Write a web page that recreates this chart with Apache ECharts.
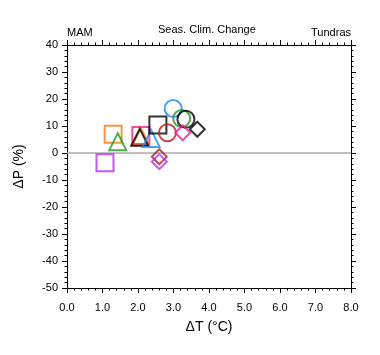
<!DOCTYPE html>
<html><head><meta charset="utf-8">
<script src="https://cdn.jsdelivr.net/npm/echarts@6/dist/echarts.min.js"></script>
<style>html,body{margin:0;padding:0;background:#fff}#c{width:380px;height:355px}</style>
</head><body><div id="c"></div>
<script>
// Data: temperature change (°C) and precipitation change (%) per model
const dT = [1.30, 1.43, 1.07, 2.08, 2.08, 2.05, 2.37, 2.56, 2.83, 2.99, 3.23, 3.35, 3.26, 3.67, 2.60, 2.60];
const dP = [6.9, 4.2, -3.6, 6.5, 6.0, 5.8, 5.4, 10.4, 7.5, 16.5, 12.8, 12.5, 7.5, 8.8, -1.4, -3.2];
const xTicks = [0,1,2,3,4,5,6,7,8];
const yTicks = [-50,-40,-30,-20,-10,0,10,20,30,40];

// Styles (kept separate from data)
const shapes = ['rect','triangle','rect','rect','triangle','triangle','triangle','rect','circle','circle','circle','circle','diamond','diamond','diamond','diamond'];
const colors = ['#f07c14','#229922','#b030f0','#f0208c','#f07c14','#000000','#1e88f0','#000000','#b02020','#1e88f0','#229922','#000000','#f0208c','#000000','#b02020','#b030f0'];
const sizes = {rect:17, triangle:17, circle:17, diamond:15};

const font = 'Liberation Sans, Arial, Helvetica, sans-serif';
const series = dT.map((x,i)=>({
  type:'scatter', z: 3+i,
  symbol: shapes[i], symbolSize: sizes[shapes[i]],
  itemStyle:{color:'rgba(0,0,0,0)', borderColor:colors[i], borderWidth:2},
  data:[[x, dP[i]]], silent:true
}));
series.push({
  type:'line', data:[[0,0],[8,0]], symbol:'none', z:2,
  lineStyle:{color:'#aaaaaa', width:1.5}, silent:true
});

const tickCommon = {show:true, inside:false, length:5, lineStyle:{color:'#000', width:1}};
const minorCommon = {show:true, splitNumber:5, length:2.5, lineStyle:{color:'#000', width:1}};
const ts = {fontFamily:font, fontSize:11, fontWeight:'normal', color:'#000'};
const chart = echarts.init(document.getElementById('c'), null, {renderer:'canvas'});
chart.setOption({
  animation:false,
  backgroundColor:'#fff',
  grid:{left:67, right:29, top:45, bottom:67, containLabel:false},
  title:[
    {text:'MAM', left:62, top:22, textStyle:ts},
    {text:'Seas. Clim. Change', left:153, top:19, textStyle:ts},
    {text:'Tundras', right:24, top:22, textStyle:ts}
  ],
  xAxis:[{
    type:'value', min:xTicks[0], max:xTicks[xTicks.length-1], interval:1,
    axisLine:{show:true, onZero:false, lineStyle:{color:'#000', width:1}},
    axisTick:tickCommon, minorTick:minorCommon, splitLine:{show:false},
    axisLabel:{fontFamily:font, fontSize:11, color:'#000', margin:14, formatter:v=>v.toFixed(1)},
    name:'\u0394T (\u00B0C)', nameLocation:'middle', nameGap:32,
    nameTextStyle:{fontFamily:font, fontSize:14, color:'#000'}
  },{
    type:'value', position:'top', min:0, max:8, interval:1,
    axisLine:{show:true, onZero:false, lineStyle:{color:'#000', width:1}},
    axisTick:tickCommon, minorTick:minorCommon, splitLine:{show:false}, axisLabel:{show:false}
  }],
  yAxis:[{
    type:'value', min:yTicks[0], max:yTicks[yTicks.length-1], interval:10,
    axisLine:{show:true, onZero:false, lineStyle:{color:'#000', width:1}},
    axisTick:tickCommon, minorTick:minorCommon, splitLine:{show:false},
    axisLabel:{fontFamily:font, fontSize:11, color:'#000', margin:9},
    name:'\u0394P (%)', nameLocation:'middle', nameGap:41, nameRotate:90,
    nameTextStyle:{fontFamily:font, fontSize:14, color:'#000'}
  },{
    type:'value', position:'right', min:-50, max:40, interval:10,
    axisLine:{show:true, onZero:false, lineStyle:{color:'#000', width:1}},
    axisTick:tickCommon, minorTick:minorCommon, splitLine:{show:false}, axisLabel:{show:false}
  }],
  series:series
});
</script></body></html>
